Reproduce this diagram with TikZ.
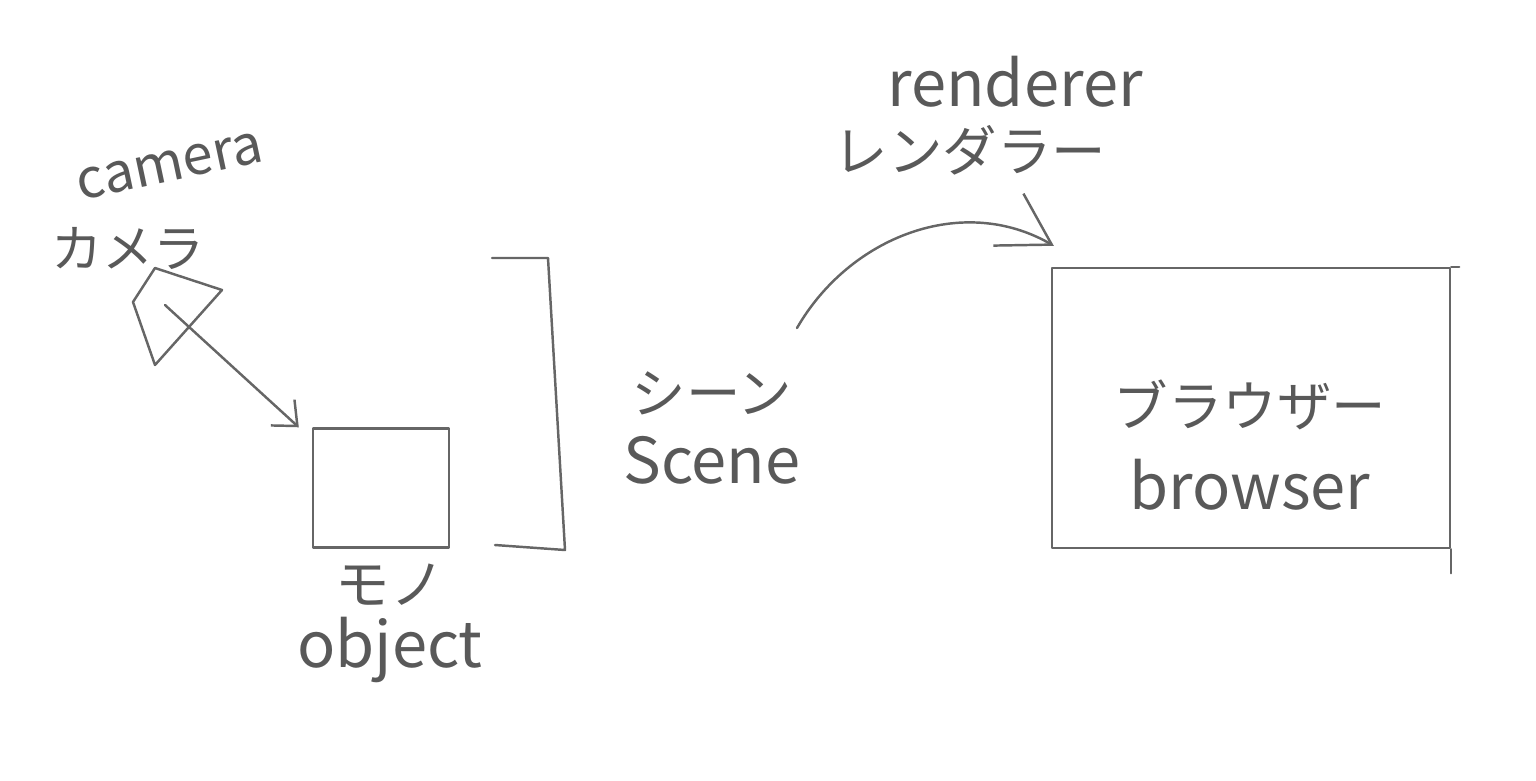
\documentclass[tikz,border=0pt]{standalone}
\usepackage{fontspec}
\newfontfamily\jpfont{Noto Sans CJK JP}
\usetikzlibrary{arrows.meta, positioning}

\tikzset{
  pencil/.style={draw=black!60, line width=1.4pt, line cap=round, line join=round},
  word/.style={text=black!65, font=\jpfont\fontsize{36}{40}\selectfont, inner sep=0pt},
  kana/.style={text=black!65, font=\jpfont\fontsize{31}{36}\selectfont, inner sep=0pt},
  smallbarb/.tip={Straight Barb[length=4mm, width=7mm]},
  bigbarb/.tip={Straight Barb[length=10mm, width=12mm]}
}

\begin{document}
\begin{tikzpicture}[x=0.02cm, y=-0.02cm, node distance=1.3cm, on grid]
  \useasboundingbox (0,0) rectangle (1536,781);

  % Camera
  \node[word, rotate=12, font=\jpfont\fontsize{31}{36}\selectfont] (camera) at (170,166) {camera};
  \node[kana, font=\jpfont\fontsize{29}{34}\selectfont, below left=1.66cm and 0.84cm of camera] (camerajp) {カメラ};
  \draw[pencil] (155,268) -- (222,290) -- (155,365) -- (133,302) -- cycle;
  \coordinate (lens) at (165,305);

  % Object
  \node[pencil, rectangle, minimum width=2.72cm, minimum height=2.38cm] (obj) at (381,488) {};
  \node[kana] (objjp) at (390,585) {モノ};
  \node[word, below=1.3cm of objjp] (objen) {object};

  % Scene bracket
  \draw[pencil] (492,258) -- (548,258) -- (565,550) -- (495,545);
  \node[kana] (scenejp) at (712,393) {シーン};
  \node[word, below=1.35cm of scenejp] (sceneen) {Scene};
  \coordinate (scenetop) at (797,328);

  % Renderer
  \node[word] (renderer) at (1015,82) {renderer};
  \node[kana, below left=1.36cm and 0.9cm of renderer] (rendererjp) {レンダラー};

  % Browser
  \node[pencil, rectangle, minimum width=7.96cm, minimum height=5.6cm] (browser) at (1251,408) {};
  \draw[pencil] (browser.south east) -- ++(0,24);
  \draw[pencil] (browser.north east) -- ++(8,0);
  \node[kana] (browserjp) at (1250,405) {ブラウザー};
  \node[word, below=1.6cm of browserjp] (browseren) {browser};

  % Arrows
  \draw[pencil, -smallbarb] (lens) -- ([shift={(-13,0)}]obj.north west);
  \draw[pencil, -bigbarb] (scenetop) to[out=60, in=150] ([shift={(3,-21)}]browser.north west);
\end{tikzpicture}
\end{document}
